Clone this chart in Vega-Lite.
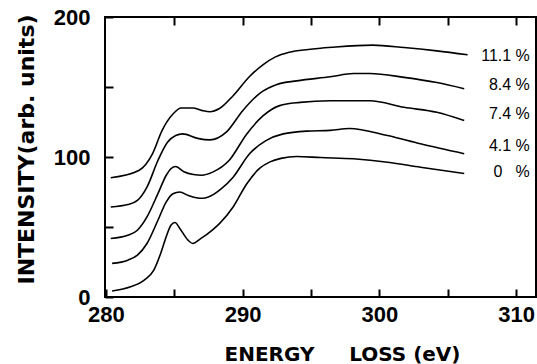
{
  "$schema": "https://vega.github.io/schema/vega-lite/v6.json",
  "width": 431,
  "height": 280,
  "autosize": {"type": "none"},
  "padding": {"left": 105, "top": 17, "right": 1, "bottom": 67},
  "background": "white",
  "config": {
    "view": {"stroke": "black", "strokeWidth": 2},
    "font": "DejaVu Sans",
    "axis": {"grid": false, "domain": false, "tickColor": "black", "tickWidth": 2, "labelColor": "black", "titleColor": "black", "labelOverlap": false, "labelFlush": false, "labelBound": false}
  },
  "datasets": {
    "curves": [
      {"series": "0", "E": 280.45, "I": 4.3},
      {"series": "0", "E": 281.8, "I": 7.3},
      {"series": "0", "E": 282.8, "I": 12.1},
      {"series": "0", "E": 283.5, "I": 19.2},
      {"series": "0", "E": 284.0, "I": 31.1},
      {"series": "0", "E": 284.4, "I": 42.9},
      {"series": "0", "E": 284.75, "I": 51.2},
      {"series": "0", "E": 285.05, "I": 53.2},
      {"series": "0", "E": 285.4, "I": 49.0},
      {"series": "0", "E": 286.0, "I": 40.6},
      {"series": "0", "E": 286.35, "I": 38.2},
      {"series": "0", "E": 286.9, "I": 41.5},
      {"series": "0", "E": 287.8, "I": 48.0},
      {"series": "0", "E": 288.3, "I": 52.4},
      {"series": "0", "E": 289.3, "I": 64.3},
      {"series": "0", "E": 290.3, "I": 80.9},
      {"series": "0", "E": 291.25, "I": 92.0},
      {"series": "0", "E": 292.0, "I": 96.5},
      {"series": "0", "E": 292.8, "I": 99.0},
      {"series": "0", "E": 293.95, "I": 100.4},
      {"series": "0", "E": 295.7, "I": 99.6},
      {"series": "0", "E": 298.1, "I": 98.7},
      {"series": "0", "E": 300.6, "I": 96.3},
      {"series": "0", "E": 303.0, "I": 92.7},
      {"series": "0", "E": 306.2, "I": 88.2},
      {"series": "4.1", "E": 280.45, "I": 24.0},
      {"series": "4.1", "E": 281.6, "I": 26.3},
      {"series": "4.1", "E": 282.3, "I": 29.9},
      {"series": "4.1", "E": 283.0, "I": 38.2},
      {"series": "4.1", "E": 283.8, "I": 54.8},
      {"series": "4.1", "E": 284.4, "I": 67.8},
      {"series": "4.1", "E": 284.9, "I": 73.8},
      {"series": "4.1", "E": 285.4, "I": 75.0},
      {"series": "4.1", "E": 286.0, "I": 72.6},
      {"series": "4.1", "E": 286.6, "I": 70.9},
      {"series": "4.1", "E": 287.1, "I": 70.5},
      {"series": "4.1", "E": 287.9, "I": 73.5},
      {"series": "4.1", "E": 288.4, "I": 77.0},
      {"series": "4.1", "E": 289.3, "I": 85.6},
      {"series": "4.1", "E": 290.5, "I": 102.3},
      {"series": "4.1", "E": 291.7, "I": 111.7},
      {"series": "4.1", "E": 292.96, "I": 116.5},
      {"series": "4.1", "E": 294.7, "I": 118.5},
      {"series": "4.1", "E": 296.4, "I": 119.0},
      {"series": "4.1", "E": 297.8, "I": 120.4},
      {"series": "4.1", "E": 300.6, "I": 115.3},
      {"series": "4.1", "E": 303.0, "I": 109.4},
      {"series": "4.1", "E": 306.2, "I": 102.3},
      {"series": "7.4", "E": 280.35, "I": 41.8},
      {"series": "7.4", "E": 281.6, "I": 44.1},
      {"series": "7.4", "E": 282.3, "I": 47.7},
      {"series": "7.4", "E": 283.0, "I": 57.2},
      {"series": "7.4", "E": 283.8, "I": 73.8},
      {"series": "7.4", "E": 284.4, "I": 86.8},
      {"series": "7.4", "E": 284.75, "I": 91.6},
      {"series": "7.4", "E": 285.1, "I": 93.2},
      {"series": "7.4", "E": 285.7, "I": 89.5},
      {"series": "7.4", "E": 286.4, "I": 87.5},
      {"series": "7.4", "E": 287.0, "I": 87.0},
      {"series": "7.4", "E": 287.8, "I": 89.2},
      {"series": "7.4", "E": 289.0, "I": 97.5},
      {"series": "7.4", "E": 290.3, "I": 116.5},
      {"series": "7.4", "E": 291.5, "I": 129.5},
      {"series": "7.4", "E": 292.7, "I": 136.7},
      {"series": "7.4", "E": 294.2, "I": 139.0},
      {"series": "7.4", "E": 296.4, "I": 140.2},
      {"series": "7.4", "E": 299.3, "I": 140.2},
      {"series": "7.4", "E": 301.8, "I": 135.5},
      {"series": "7.4", "E": 304.2, "I": 131.9},
      {"series": "7.4", "E": 306.2, "I": 126.0},
      {"series": "8.4", "E": 280.35, "I": 64.3},
      {"series": "8.4", "E": 281.6, "I": 66.0},
      {"series": "8.4", "E": 282.3, "I": 69.0},
      {"series": "8.4", "E": 283.0, "I": 78.5},
      {"series": "8.4", "E": 283.8, "I": 97.5},
      {"series": "8.4", "E": 284.5, "I": 110.5},
      {"series": "8.4", "E": 285.1, "I": 115.3},
      {"series": "8.4", "E": 285.6, "I": 116.5},
      {"series": "8.4", "E": 286.7, "I": 113.3},
      {"series": "8.4", "E": 287.6, "I": 112.2},
      {"series": "8.4", "E": 288.8, "I": 117.7},
      {"series": "8.4", "E": 290.0, "I": 133.1},
      {"series": "8.4", "E": 291.25, "I": 145.5},
      {"series": "8.4", "E": 292.5, "I": 151.8},
      {"series": "8.4", "E": 293.95, "I": 154.4},
      {"series": "8.4", "E": 296.4, "I": 157.3},
      {"series": "8.4", "E": 298.1, "I": 159.6},
      {"series": "8.4", "E": 299.3, "I": 159.6},
      {"series": "8.4", "E": 301.8, "I": 156.9},
      {"series": "8.4", "E": 304.2, "I": 153.2},
      {"series": "8.4", "E": 306.2, "I": 148.8},
      {"series": "11.1", "E": 280.35, "I": 85.2},
      {"series": "11.1", "E": 282.4, "I": 90.4},
      {"series": "11.1", "E": 283.4, "I": 102.3},
      {"series": "11.1", "E": 284.1, "I": 118.9},
      {"series": "11.1", "E": 284.9, "I": 130.7},
      {"series": "11.1", "E": 285.5, "I": 135.0},
      {"series": "11.1", "E": 286.35, "I": 135.0},
      {"series": "11.1", "E": 287.0, "I": 133.3},
      {"series": "11.1", "E": 287.6, "I": 132.3},
      {"series": "11.1", "E": 288.3, "I": 134.6},
      {"series": "11.1", "E": 289.3, "I": 143.8},
      {"series": "11.1", "E": 290.5, "I": 157.5},
      {"series": "11.1", "E": 291.5, "I": 166.0},
      {"series": "11.1", "E": 292.4, "I": 171.5},
      {"series": "11.1", "E": 293.4, "I": 174.8},
      {"series": "11.1", "E": 294.8, "I": 176.8},
      {"series": "11.1", "E": 296.6, "I": 178.4},
      {"series": "11.1", "E": 299.5, "I": 179.9},
      {"series": "11.1", "E": 301.8, "I": 178.2},
      {"series": "11.1", "E": 304.2, "I": 175.8},
      {"series": "11.1", "E": 306.45, "I": 173.0}
    ],
    "labels": [
      {"label": "11.1 %", "E": 311.0, "I": 172},
      {"label": "8.4 %", "E": 311.0, "I": 151.5},
      {"label": "7.4 %", "E": 311.0, "I": 131},
      {"label": "4.1 %", "E": 311.0, "I": 108},
      {"label": "0\u00a0\u00a0\u00a0%", "E": 311.0, "I": 89}
    ]
  },
  "layer": [
    {
      "data": {"name": "curves"},
      "mark": {"type": "line", "interpolate": "monotone", "color": "black", "strokeWidth": 1.6},
      "encoding": {
        "x": {
          "field": "E", "type": "quantitative",
          "scale": {"domain": [279.93, 311.45], "nice": false, "zero": false},
          "axis": {
            "orient": "bottom",
            "values": [280, 285, 290, 295, 300, 305, 310],
            "labelExpr": "datum.value % 10 === 0 ? datum.label : ''",
            "tickSize": -8,
            "labelPadding": 15,
            "labelFont": "Liberation Sans", "labelFontWeight": "bold", "labelFontSize": 22,
            "title": "ENERGY\u00a0\u00a0\u00a0\u00a0\u00a0LOSS (eV)",
            "titleFont": "DejaVu Sans", "titleFontWeight": "bold", "titleFontSize": 20,
            "titleAnchor": "start", "titleAlign": "left", "titleX": 119, "titleY": 63, "titleBaseline": "alphabetic"
          }
        },
        "y": {
          "field": "I", "type": "quantitative",
          "scale": {"domain": [0, 200], "nice": false},
          "axis": {
            "values": [0, 50, 100, 150, 200],
            "labelExpr": "datum.value % 100 === 0 ? datum.label : ''",
            "tickSize": -8,
            "labelPadding": 23,
            "labelFont": "Liberation Sans", "labelFontWeight": "bold", "labelFontSize": 22,
            "title": "INTENSITY(arb. units)",
            "titleFont": "DejaVu Sans", "titleFontWeight": "bold", "titleFontSize": 22,
            "titleAlign": "center", "titleX": -72, "titleY": 132, "titleBaseline": "alphabetic"
          }
        },
        "detail": {"field": "series", "type": "nominal"}
      }
    },
    {
      "data": {"name": "labels"},
      "mark": {"type": "text", "align": "right", "baseline": "middle", "font": "Liberation Sans", "fontSize": 16, "color": "black"},
      "encoding": {
        "x": {
          "field": "E", "type": "quantitative",
          "axis": {"orient": "top", "values": [285, 290, 295, 300, 305, 310], "labels": false, "tickSize": -8, "title": null}
        },
        "y": {"field": "I", "type": "quantitative"},
        "text": {"field": "label"}
      }
    }
  ],
  "resolve": {"axis": {"x": "independent"}}
}
